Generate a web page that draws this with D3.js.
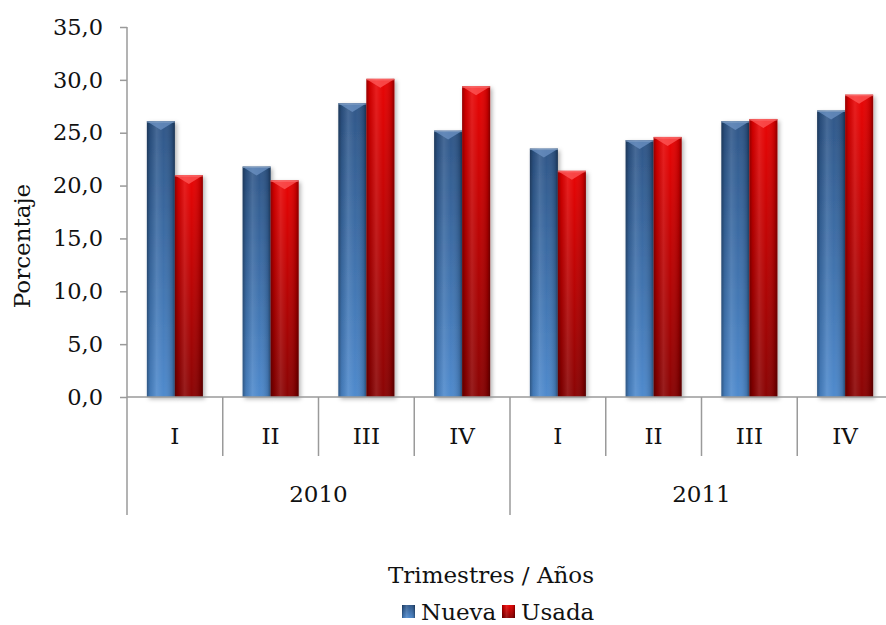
<!DOCTYPE html>
<html><head><meta charset="utf-8">
<script src="https://cdn.jsdelivr.net/npm/d3@7"></script>
<style>
html,body{margin:0;padding:0;background:#fff;}
text{font-family:"DejaVu Serif",serif;fill:#111;}
</style></head>
<body>
<svg id="chart" width="886" height="625"></svg>
<script>
const years = ["2010", "2011"];
const quarters = ["I", "II", "III", "IV"];
const seriesNames = ["Nueva", "Usada"];
const nueva = [26.1, 21.8, 27.8, 25.2, 23.5, 24.3, 26.1, 27.1];
const usada = [21.0, 20.5, 30.1, 29.4, 21.4, 24.6, 26.3, 28.6];
const yTicks = [0, 5, 10, 15, 20, 25, 30, 35];
const yTitle = "Porcentaje";
const xTitle = "Trimestres / Años";

const cats = [];
years.forEach(yr => quarters.forEach(q => cats.push({key: yr + "-" + q, year: yr, q: q})));
const data = cats.map((c, i) => ({...c, values: [nueva[i], usada[i]]}));

const svg = d3.select("#chart");
const pL = 127, pR = 893, pT = 27, pB = 397;
const FS = "23px";
const x0 = d3.scaleBand().domain(cats.map(c => c.key)).range([pL, pR]).padding(0);
const x1 = d3.scaleBand().domain(seriesNames).range([0, x0.bandwidth()]).paddingInner(0).paddingOuter(0.71);
const y = d3.scaleLinear().domain([0, 35]).range([pB, pT]);
const loc = d3.formatLocale({decimal: ",", thousands: ".", grouping: [3], currency: ["", ""]});
const fmt = loc.format(".1f");

const defs = svg.append("defs");
function vgrad(id, c1, c2) {
  const g = defs.append("linearGradient").attr("id", id).attr("x1", 0).attr("y1", 0).attr("x2", 0).attr("y2", 1);
  g.append("stop").attr("offset", "0").attr("stop-color", c1);
  g.append("stop").attr("offset", "1").attr("stop-color", c2);
}
vgrad("gBlue", "#2c5486", "#4c88cc");
vgrad("gRed", "#e80000", "#880000");
const hg = defs.append("linearGradient").attr("id", "gShade").attr("x1", 0).attr("y1", 0).attr("x2", 1).attr("y2", 0);
[[0, "#000", 0.35], [0.12, "#000", 0.1], [0.35, "#fff", 0.12], [0.6, "#fff", 0.02], [0.9, "#000", 0.15], [1, "#000", 0.4]]
  .forEach(s => hg.append("stop").attr("offset", s[0]).attr("stop-color", s[1]).attr("stop-opacity", s[2]));
const f = defs.append("filter").attr("id", "shadow").attr("x", "-20%").attr("y", "-10%").attr("width", "150%").attr("height", "130%");
f.append("feDropShadow").attr("dx", 2).attr("dy", 2).attr("stdDeviation", 2).attr("flood-color", "#000").attr("flood-opacity", 0.3);

const fills = {Nueva: "url(#gBlue)", Usada: "url(#gRed)"};
const bevel = {Nueva: "#6d93c4", Usada: "#ff5a5a"};

// bars
const groups = svg.append("g").selectAll("g").data(data).join("g")
  .attr("transform", d => `translate(${x0(d.key)},0)`);
const bars = groups.selectAll("g.bar").data(d => d.values.map((v, i) => ({name: seriesNames[i], v}))).join("g").attr("class", "bar");
bars.append("rect")
  .attr("x", d => x1(d.name)).attr("width", x1.bandwidth())
  .attr("y", d => y(d.v)).attr("height", d => y(0) - y(d.v))
  .attr("fill", d => fills[d.name]).attr("filter", "url(#shadow)");
bars.append("rect")
  .attr("x", d => x1(d.name)).attr("width", x1.bandwidth())
  .attr("y", d => y(d.v)).attr("height", d => y(0) - y(d.v))
  .attr("fill", "url(#gShade)");
bars.append("path")
  .attr("d", d => {
    const bx = x1(d.name), w = x1.bandwidth(), ty = y(d.v);
    return `M${bx+1},${ty+1} L${bx+w-1},${ty+1} L${bx+w/2},${ty+9} Z`;
  })
  .attr("fill", d => bevel[d.name]).attr("opacity", 0.75);
bars.append("rect")
  .attr("x", d => x1(d.name)).attr("width", x1.bandwidth())
  .attr("y", d => y(d.v)).attr("height", 1.5)
  .attr("fill", d => d.name === "Nueva" ? "#8fa9cc" : "#ff8080").attr("opacity", 0.7);

// y axis
const axCol = "#9a9a9a";
const yAxis = svg.append("g").attr("transform", `translate(${pL},0)`)
  .call(d3.axisLeft(y).tickValues(yTicks).tickFormat(fmt).tickSize(7).tickPadding(17));
yAxis.select(".domain").remove();
yAxis.selectAll(".tick line").attr("stroke", axCol).attr("stroke-width", 1.5);
yAxis.selectAll(".tick text").style("font-family", "DejaVu Serif").style("font-size", "22.5px").attr("fill", "#111");
svg.append("line").attr("x1", pL).attr("x2", pL).attr("y1", pT).attr("y2", 515).attr("stroke", axCol).attr("stroke-width", 1.5);

// x axis
svg.append("line").attr("x1", pL).attr("x2", 886).attr("y1", pB).attr("y2", pB).attr("stroke", axCol).attr("stroke-width", 1.5);
cats.forEach((c, i) => {
  if (i > 0) {
    const isYear = c.q === quarters[0];
    svg.append("line").attr("x1", x0(c.key)).attr("x2", x0(c.key)).attr("y1", pB).attr("y2", isYear ? 515 : 456)
      .attr("stroke", axCol).attr("stroke-width", 1.5);
  }
});
svg.append("line").attr("x1", pR).attr("x2", pR).attr("y1", pB).attr("y2", 515).attr("stroke", axCol).attr("stroke-width", 1.5);
svg.append("g").selectAll("text").data(cats).join("text")
  .attr("x", d => x0(d.key) + x0.bandwidth() / 2).attr("y", 444)
  .attr("text-anchor", "middle").style("font-size", FS).text(d => d.q);
svg.append("g").selectAll("text").data(years).join("text")
  .attr("x", yr => {
    const ks = cats.filter(c => c.year === yr).map(c => c.key);
    return (x0(ks[0]) + x0(ks[ks.length - 1]) + x0.bandwidth()) / 2;
  }).attr("y", 502)
  .attr("text-anchor", "middle").style("font-size", FS).text(d => d);

// titles
svg.append("text").attr("transform", "translate(30,246) rotate(-90)").attr("text-anchor", "middle")
  .style("font-size", FS).text(yTitle);
svg.append("text").attr("x", 491).attr("y", 583).attr("text-anchor", "middle").style("font-size", FS).text(xTitle);

// legend
const leg = svg.append("g");
const legX = [402, 502];
seriesNames.forEach((n, i) => {
  leg.append("rect").attr("x", legX[i]).attr("y", 605).attr("width", 13).attr("height", 13).attr("fill", fills[n]);
  leg.append("rect").attr("x", legX[i]).attr("y", 605).attr("width", 13).attr("height", 13).attr("fill", "url(#gShade)");
  leg.append("text").attr("x", legX[i] + 19).attr("y", 620).style("font-size", FS).text(n);
});
</script>
</body></html>
